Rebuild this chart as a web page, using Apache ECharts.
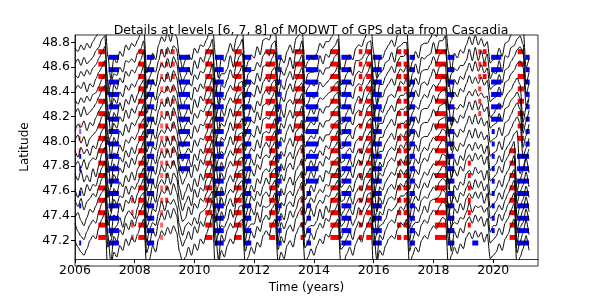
<!DOCTYPE html>
<html><head><meta charset="utf-8">
<script src="https://cdn.jsdelivr.net/npm/echarts@6/dist/echarts.min.js"></script>
<style>html,body{margin:0;padding:0;background:#fff}#c{width:598px;height:299px}</style>
</head><body><div id="c"></div>
<script>
// time grid of the curves (years)
const tStart = 2006.0, tStep = 0.1;
const xTicks = [2006, 2008, 2010, 2012, 2014, 2016, 2018, 2020];
const yTicks = [47.2, 47.4, 47.6, 47.8, 48.0, 48.2, 48.4, 48.6, 48.8];
const stationLat = [47.2, 47.3, 47.4, 47.5, 47.6, 47.7, 47.8, 47.9, 48.0, 48.1, 48.2, 48.3, 48.4, 48.5, 48.6, 48.7];
// detail curves, in units of 1/75 degree, one value per 0.1 yr
const unitsPerDegree = 75;
const d47_2 = [0,-4,-7,-9,-5,0,3,1,8,13, 17,-22,-16,-7,-10,-3,-6,1,-3,2, -1,4,9,13,-17,-11,-3,-7,1,6, 3,8,4,9,5,-7,-13,-10,-4,-9, -2,-6,1,-2,4,9,16,-20,-14,-6, -10,-3,1,-2,5,11,13,-16,-10,-4, -8,-1,-4,3,6,3,10,13,-14,-7, -11,-3,0,-4,4,8,11,-14,-10,-5, -9,-3,1,-2,4,2,7,10,13,-15, -13,-8,-4,-9,-2,2,-1,6,10,14, -20,-14,-6,-9,-3,1,3,1,7,11, 9,13,-16,-9,-4,-7,0,3,1,6, 9,7,11,14,13,-16,-9,-4,-8,-2, -5,2,5,1,6,2,5,-1,4,-11, -9,-7,-2,-6,1,4,9,13,-17,-10, -5,3,-6];
const d47_3 = [3,-2,-5,-7,-2,2,5,3,10,15, 18,-4,-21,-5,-8,-1,-4,3,-1,5, 1,7,11,15,-15,-9,-1,-5,4,9, 5,11,6,12,8,-5,-11,-7,-2,-7, 1,-3,4,1,7,11,17,-3,-19,-4, -8,-1,3,0,7,13,14,-14,-8,-2, -6,1,-2,5,8,5,12,15,-13,-5, -9,-1,2,-2,6,10,13,-12,-8,-3, -7,-1,3,0,6,4,9,11,15,-13, -11,-6,-2,-7,0,4,1,8,12,15, -2,-19,-4,-7,-1,3,5,3,9,13, 11,15,-14,-7,-2,-5,2,5,3,8, 11,9,13,16,15,-1,-14,-2,-6,0, -3,4,7,3,8,4,7,1,6,-9, -7,-5,0,-4,3,6,11,15,-15,-8, -3,5,-4];
const d47_4 = [-1,2,-3,-6,-1,4,2,6,11,14, 17,-19,-15,-8,-6,-1,-7,0,3,1, -2,5,12,14,-16,-8,-4,-6,2,9, 3,9,7,10,6,-6,-12,-6,-4,-6, -1,-5,2,3,5,12,15,-18,-11,-6, -7,-3,4,-1,8,11,14,-15,-7,-5, -5,2,-4,6,5,6,10,14,-15,-4, -8,-3,3,-1,4,10,12,-13,-7,-6, -6,-3,4,-2,6,2,10,11,14,-14, -10,-7,-1,-6,-2,5,2,6,13,14, -18,-11,-6,-5,-2,4,3,5,8,12, 12,14,-15,-6,-4,-4,1,6,2,9, 10,10,12,16,14,-15,-6,-4,-5,-1, -2,2,8,2,6,5,6,2,5,-10, -6,-6,1,-3,2,7,10,14,-16,-7, -4,4,-3];
const d47_5 = [2,-2,3,-4,1,3,6,4,10,15, 18,-4,-20,-7,-9,0,-5,2,0,5, 0,6,11,15,-15,-10,-3,-5,3,8, 6,10,5,12,7,-4,-11,-9,-2,-7, 0,-3,3,1,6,11,16,-3,-19,-5, -9,-1,3,-2,6,12,14,-15,-9,-3, -7,1,-2,5,7,4,11,14,-14,-6, -10,-1,1,-2,5,9,13,-13,-9,-3, -8,-1,2,0,5,4,8,11,14,-14, -12,-6,-3,-7,0,3,1,7,12,15, -2,-19,-5,-7,-1,3,4,2,9,12, 10,14,-15,-8,-2,-5,2,4,3,7, 10,8,13,15,14,-1,-15,-3,-6,0, -4,3,6,3,7,3,7,0,6,-9, -8,-5,-1,-4,2,6,10,14,-16,-9, -4,4,-5];
const d47_6 = [1,-4,2,-3,4,0,4,3,9,14, 18,-21,-14,-5,-8,-3,-4,3,-2,3, 1,5,10,14,-16,-9,-2,-7,4,7, 4,11,4,11,8,-5,-12,-7,-3,-9, 1,-4,2,0,7,10,16,-19,-13,-4, -9,-2,1,-1,6,12,13,-16,-10,-3, -6,0,-3,3,8,4,12,14,-14,-7, -9,-2,0,-3,6,9,12,-14,-8,-4, -7,-2,1,-1,4,3,9,10,14,-15, -12,-7,-3,-8,-1,2,0,8,11,14, -19,-13,-4,-8,-2,2,4,1,8,13, 10,13,-16,-7,-3,-6,1,5,2,7, 11,8,12,15,15,-15,-7,-3,-7,-1, -3,2,6,1,7,2,6,0,4,-10, -8,-6,-1,-5,1,5,10,13,-16,-9, -5,3,-4];
const d47_7 = [3,-1,5,-2,2,-2,6,1,8,15, 19,-4,-20,-6,-9,-2,-5,2,-2,4, -1,6,9,14,-17,-10,-2,-6,2,8, 4,9,6,11,6,-6,-13,-8,-3,-8, 0,-5,3,-1,6,10,16,-3,-20,-5, -10,-2,2,-2,5,12,13,-15,-9,-4, -8,0,-3,4,6,4,11,14,-15,-6, -10,-3,1,-4,5,8,12,-13,-10,-4, -8,-2,2,-2,5,3,8,11,13,-14, -13,-7,-4,-8,-1,3,-1,7,10,15, -2,-20,-5,-7,-2,1,4,2,7,12, 9,14,-15,-9,-3,-6,0,4,2,6, 9,8,11,15,14,-1,-16,-4,-7,-2, -4,3,5,2,7,3,5,-1,5,-10, -9,-6,-1,-5,2,5,9,14,-15,-8, -4,4,-5];
const d47_8 = [0,3,-1,4,-2,3,5,4,10,14, 18,-19,-13,-5,-8,-1,-4,3,-1,5, 1,7,10,15,-15,-9,-1,-5,4,9, 5,10,5,12,8,-5,-11,-7,-2,-7, 1,-3,4,1,7,11,16,-19,-12,-4, -8,-1,3,0,7,12,14,-15,-8,-2, -6,1,-2,5,7,5,12,15,-13,-5, -9,-1,2,-2,6,10,13,-12,-8,-3, -7,-1,3,0,6,4,9,12,15,-13, -11,-6,-2,-7,0,4,1,8,12,15, -19,-11,-4,-6,-1,3,5,3,9,13, 11,15,-14,-7,-2,-5,2,5,3,8, 11,9,13,16,15,-14,-7,-2,-6,0, -3,4,7,3,8,4,7,1,6,-9, -7,-5,0,-4,3,6,11,15,-15,-8, -3,5,-4];
const d47_9 = [2,-2,4,0,3,-1,5,3,9,14, 17,-4,-20,-6,-9,-2,-5,2,-2,4, 0,6,10,14,-16,-10,-2,-6,3,8, 4,10,5,11,7,-6,-12,-8,-3,-8, 0,-4,3,0,6,10,15,-3,-18,-5, -9,-2,2,-1,6,12,13,-15,-9,-3, -7,0,-3,4,7,4,11,14,-14,-6, -10,-2,1,-3,5,9,12,-13,-9,-4, -8,-2,2,-1,5,3,8,10,14,-14, -12,-7,-3,-8,-1,3,0,7,11,14, -2,-18,-5,-8,-2,2,4,2,8,12, 10,14,-15,-8,-3,-6,1,4,2,7, 10,8,12,15,14,-1,-15,-3,-7,-1, -4,3,6,2,7,3,6,0,5,-10, -8,-6,-1,-5,2,5,8,12,14,-12, -8,-2,3];
const d48_0 = [1,4,-1,3,-3,2,4,6,10,15, 17,-19,-15,-7,-8,-2,-6,1,-1,3, 1,5,11,14,-15,-9,-3,-5,4,7, 5,9,6,12,7,-5,-12,-7,-4,-7, 1,-3,2,1,5,11,15,-18,-11,-6, -8,-3,3,-2,7,11,14,-14,-8,-4, -6,1,-4,5,6,5,10,14,-13,-6, -9,-2,2,-3,6,8,13,-12,-8,-5, -7,-3,3,0,4,4,7,11,13,-13, -12,-6,-4,-7,0,2,1,6,12,14, -18,-11,-6,-6,-1,2,5,1,9,11, 11,13,-14,-8,-2,-6,2,3,3,6, 11,7,13,14,15,-14,-8,-3,-6,-1, -3,2,7,2,8,2,6,1,4,-9, -7,-6,0,-5,3,4,8,12,15,11, -10,-4,2];
const d48_1 = [-1,3,1,5,-1,4,2,7,11,14, 18,-3,-18,-5,-9,-1,-4,3,-2,4, 2,6,10,15,-14,-9,-2,-6,3,8, 6,11,5,13,8,-4,-11,-6,-3,-6, 2,-2,3,2,6,12,16,-2,-17,-5, -7,-2,4,-1,8,12,15,-13,-7,-3, -5,2,-3,6,7,6,11,15,-12,-5, -8,-1,3,-2,7,9,14,-11,-7,-4, -6,-2,4,1,5,5,8,12,14,-12, -11,-5,-3,-6,1,3,2,7,13,15, -1,-17,-5,-5,0,3,6,2,10,12, 12,14,-13,-7,-1,-5,3,4,4,7, 12,8,14,15,16,0,-13,-2,-5,0, -2,3,8,3,9,3,7,2,5,-8, -6,-5,1,-4,4,5,9,13,16,12, -11,-4,3];
const d48_2 = [2,5,0,6,1,3,5,8,12,16, 19,-17,-12,-4,-7,0,-3,4,-1,5, 2,7,11,16,-13,-8,-1,-5,4,9, 6,12,6,13,9,-3,-10,-5,-2,-5, 2,-1,4,3,7,12,17,-16,-10,-4, -6,-1,5,0,8,13,15,-12,-6,-2, -4,3,-2,7,8,7,12,16,-11,-4, -7,0,4,-1,8,10,14,-10,-6,-3, -5,-1,5,2,6,6,9,13,15,-11, -10,-4,-2,-5,2,4,3,8,13,16, -16,-9,-4,-4,1,4,7,3,10,13, 13,15,-12,-6,0,-4,4,5,5,8, 13,9,14,16,17,-12,-6,-1,-4,1, -1,4,9,4,10,4,8,3,6,-7, -5,-4,2,-3,5,6,10,12,15,11, -10,-3,4];
const d48_3 = [3,0,4,1,5,2,6,7,11,15, 18,-3,-18,-5,-8,1,-4,3,0,6, 1,6,12,15,-14,-9,-2,-4,5,8, 7,11,7,12,8,-4,-11,-6,-1,-6, 3,-2,5,2,8,11,16,-2,-17,-3, -7,0,4,1,7,13,14,-13,-7,-1, -5,2,-1,6,9,6,13,15,-12,-3, -8,1,3,0,7,11,13,-11,-7,-2, -6,0,4,3,5,7,8,12,14,-12, -11,-5,-1,-6,1,5,2,9,12,15, -1,-17,-3,-5,0,5,6,4,9,14, 12,16,-13,-5,-1,-3,3,6,4,9, 12,10,13,17,16,0,-13,-2,-3,0, -2,5,8,5,9,5,7,4,5,-8, -6,-3,1,-2,4,7,9,13,16,12, -11,-2,3];
const d48_4 = [1,4,2,6,0,5,3,8,12,15, 19,-17,-11,-4,-7,0,-3,4,1,5, 3,7,11,16,-13,-8,-1,-5,4,9, 6,12,6,13,9,-3,-10,-5,-2,-5, 3,0,5,2,8,11,17,-16,-10,-3, -5,0,4,1,9,12,16,-11,-7,-1, -3,4,-1,6,9,6,13,15,-12,-3, -6,1,5,0,7,11,15,-9,-7,-2, -4,0,6,3,5,7,10,12,16,-10, -9,-3,-1,-4,3,5,4,9,12,17, -15,-8,-3,-3,2,5,8,4,11,14, 12,16,-11,-5,1,-3,5,6,4,9, 14,10,15,17,16,-11,-5,0,-3,2, 0,5,10,5,9,5,9,4,7,-6, -4,-3,3,-2,6,7,11,13,17,19, 15,-8,-3];
const d48_5 = [3,1,5,2,6,3,7,9,13,16, 20,-2,-16,-3,-6,1,-2,5,2,6, 4,8,12,17,-12,-7,0,-4,5,10, 7,13,7,14,10,-2,-9,-4,-1,-4, 3,0,5,4,8,13,18,-1,-15,-3, -5,0,6,1,9,14,16,-11,-5,-1, -3,4,-1,8,9,8,13,17,-10,-3, -6,1,5,0,9,11,15,-9,-5,-2, -4,0,6,3,7,7,10,14,16,-10, -9,-3,-1,-4,3,5,4,9,14,17, 0,-15,-3,-3,2,5,8,4,11,14, 14,16,-11,-5,1,-3,5,6,6,9, 14,10,15,17,18,1,-11,0,-3,2, 0,5,10,5,11,5,9,4,7,-6, -4,-3,3,-2,6,7,11,14,18,20, 16,-9,-2];
const d48_6 = [2,5,1,6,2,4,6,10,12,17, 19,-17,-10,-4,-5,0,-3,4,3,5, 3,9,11,16,-13,-6,-1,-3,4,11, 6,12,8,13,11,-3,-9,-5,0,-5, 4,-1,6,3,9,12,17,-16,-8,-4, -4,-1,7,0,10,13,17,-12,-4,-2, -2,3,0,7,10,7,14,16,-11,-2, -5,0,6,-1,10,10,16,-10,-4,-3, -3,-1,7,2,8,6,11,13,17,-11, -8,-4,0,-5,4,4,5,8,15,16, -16,-7,-4,-2,3,4,9,3,12,13, 15,15,-12,-4,2,-4,6,5,7,8, 15,9,16,16,19,-12,-4,-1,-2,1, 1,4,11,4,12,4,10,3,8,-7, -3,-4,4,-3,7,6,12,13,17,19, 14,-10,-3];
const d48_7 = [4,2,6,3,7,4,8,11,14,18, 21,-1,-15,-2,-5,2,-1,6,3,7, 5,9,13,18,-11,-6,1,-3,6,11, 8,14,8,15,11,-1,-8,-3,0,-3, 4,1,6,5,9,14,19,0,-14,-2, -4,1,7,2,10,15,17,-10,-4,0, -2,5,0,9,10,9,14,18,-9,-2, -5,2,6,1,10,12,16,-8,-4,-1, -3,1,7,4,8,8,11,15,17,-9, -8,-2,0,-3,4,6,5,10,15,18, 1,-14,-2,-2,3,6,9,5,12,15, 15,17,-10,-4,2,-2,6,7,7,10, 15,11,16,18,19,2,-10,1,-2,3, 1,6,11,6,12,6,10,5,8,-5, -3,-2,4,-1,7,8,12,15,19,21, 17,-8,-2];
const details = [d47_2, d47_3, d47_4, d47_5, d47_6, d47_7, d47_8, d47_9, d48_0, d48_1, d48_2, d48_3, d48_4, d48_5, d48_6, d48_7];
// red (positive) and blue (negative) periods: [start, end, first station, last station, opacity]
const redMarks = [
  [2006.12, 2006.16, 7, 9, 0.6],
  [2006.78, 2007.03, 0, 15, 1],
  [2007.88, 2007.96, 0, 3, 0.8],
  [2008.12, 2008.34, 0, 15, 1],
  [2008.85, 2008.95, 0, 15, 0.6],
  [2009.02, 2009.12, 3, 15, 0.9],
  [2009.22, 2009.34, 6, 15, 0.8],
  [2010.36, 2010.6, 0, 15, 1],
  [2011.33, 2011.58, 0, 15, 1],
  [2012.5, 2012.7, 0, 7, 1],
  [2012.38, 2012.7, 8, 15, 1],
  [2013.55, 2013.68, 0, 7, 1],
  [2013.35, 2013.68, 8, 15, 1],
  [2014.55, 2014.85, 0, 15, 1],
  [2015.5, 2015.62, 0, 15, 1],
  [2015.75, 2015.93, 0, 15, 1],
  [2016.78, 2016.92, 0, 15, 1],
  [2017.0, 2017.17, 0, 15, 1],
  [2018.05, 2018.44, 0, 15, 1],
  [2019.15, 2019.25, 1, 6, 1],
  [2019.5, 2019.6, 10, 15, 0.8],
  [2019.65, 2019.78, 13, 15, 1],
  [2020.55, 2020.76, 0, 7, 1],
  [2020.82, 2021.03, 8, 15, 1]
];
const blueMarks = [
  [2006.14, 2006.2, 0, 0, 1],
  [2006.14, 2006.2, 3, 4, 1],
  [2006.14, 2006.2, 6, 7, 1],
  [2006.14, 2006.2, 9, 9, 0.6],
  [2007.12, 2007.47, 0, 15, 1],
  [2008.4, 2008.65, 0, 15, 1],
  [2009.47, 2009.85, 6, 15, 1],
  [2010.68, 2010.98, 0, 15, 1],
  [2011.66, 2011.9, 0, 15, 1],
  [2012.78, 2012.92, 0, 15, 0.9],
  [2013.75, 2013.9, 0, 4, 1],
  [2013.73, 2014.15, 5, 15, 1],
  [2014.92, 2015.25, 0, 15, 1],
  [2015.97, 2016.27, 0, 15, 1],
  [2017.2, 2017.38, 0, 15, 1],
  [2018.47, 2018.7, 0, 15, 1],
  [2019.3, 2019.5, 0, 0, 1],
  [2019.95, 2020.05, 1, 9, 1],
  [2019.93, 2020.27, 10, 15, 1],
  [2020.8, 2021.2, 0, 7, 1],
  [2021.08, 2021.22, 8, 15, 1]
];

const chart = echarts.init(document.getElementById('c'), null, {renderer: 'canvas'});
const FONT = 'DejaVu Sans';
function expand(marks, dLat) {
  const out = [];
  marks.forEach(m => { for (let k = m[2]; k <= m[3]; k++) out.push([m[0], m[1], stationLat[k] + dLat, m[4]]); });
  return out;
}
function barSeries(data, color) {
  return {
    type: 'custom', z: 1, silent: true,
    renderItem: (params, api) => {
      const a = api.coord([api.value(0), api.value(2)]);
      const b = api.coord([api.value(1), api.value(2)]);
      const h = 5;
      return { type: 'rect', shape: { x: a[0], y: a[1] - h / 2, width: Math.max(b[0] - a[0], 2), height: h },
               style: { fill: color, opacity: api.value(3) } };
    },
    encode: { x: [0, 1], y: 2 },
    data: data
  };
}
const series = [barSeries(expand(redMarks, 0.025), '#ff0000'), barSeries(expand(blueMarks, -0.02), '#0000ff')];
details.forEach((vals, k) => {
  series.push({
    type: 'line', z: 3, silent: true, showSymbol: false, smooth: 0.25, smoothMonotone: 'x',
    lineStyle: { color: '#000', width: 1 },
    data: vals.map((v, i) => [tStart + i * tStep, stationLat[k] + v / unitsPerDegree])
  });
});
chart.setOption({
  animation: false,
  title: { text: 'Details at levels [6, 7, 8] of MODWT of GPS data from Cascadia', left: 306, textAlign: 'center', top: 19,
           textStyle: { fontFamily: FONT, fontSize: 12.5, fontWeight: 'normal', color: '#000' } },
  grid: { left: 75, right: 60, top: 35, bottom: 33 },
  xAxis: { type: 'value', min: 2006, max: 2021.5, name: 'Time (years)', nameLocation: 'middle', nameGap: 18,
    nameTextStyle: { fontFamily: FONT, fontSize: 12, color: '#000' },
    axisLine: { show: true, lineStyle: { color: '#000', width: 0.8 } },
    axisTick: { show: true, length: 4, customValues: xTicks, lineStyle: { color: '#000' } },
    axisLabel: { customValues: xTicks, fontFamily: FONT, fontSize: 12.5, color: '#000', margin: 5, formatter: v => String(v) },
    splitLine: { show: false } },
  yAxis: { type: 'value', min: 47.05, max: 48.86, name: 'Latitude', nameLocation: 'middle', nameGap: 37,
    nameTextStyle: { fontFamily: FONT, fontSize: 12, color: '#000' },
    axisLine: { show: true, lineStyle: { color: '#000', width: 0.8 } },
    axisTick: { show: true, length: 4, customValues: yTicks, lineStyle: { color: '#000' } },
    axisLabel: { customValues: yTicks, fontFamily: FONT, fontSize: 12.5, color: '#000', margin: 5, formatter: v => v.toFixed(1) },
    splitLine: { show: false } },
  graphic: [{ type: 'rect', z: 10, silent: true, shape: { x: 75, y: 35, width: 463, height: 231 },
              style: { fill: 'none', stroke: '#000', lineWidth: 0.8 } }],
  series: series
});
</script></body></html>
